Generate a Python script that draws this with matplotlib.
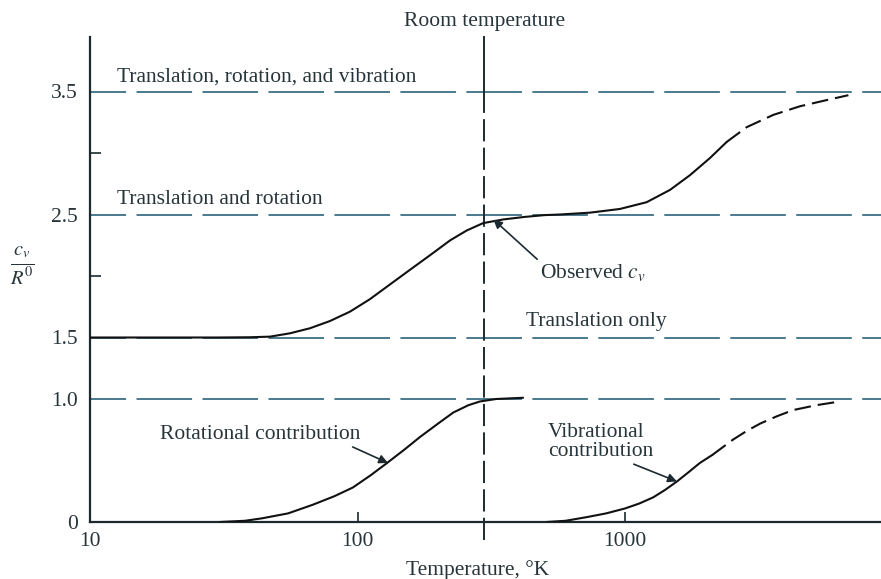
import numpy as np
import matplotlib
matplotlib.use("Agg")
import matplotlib.pyplot as plt
from matplotlib.ticker import NullLocator

plt.rcParams['font.family'] = ['Liberation Serif', 'DejaVu Serif']
plt.rcParams['mathtext.fontset'] = 'stix'
plt.rcParams['lines.scale_dashes'] = False

# --- data -------------------------------------------------------------
# classical plateau levels of c_v / R
level_values = [3.5, 2.5, 1.5, 1.0]
room_temperature = 298.0

# observed heat capacity (solid part, then estimated dashed part)
obs_T_solid = [10, 20, 30, 39.7, 47.1, 55.9, 66.4, 78.9, 93.7, 111, 132, 157,
               187, 222, 256, 295, 351, 420, 500, 571, 740, 957, 1205, 1473,
               1750, 2080, 2400]
obs_v_solid = [1.50, 1.50, 1.50, 1.502, 1.507, 1.534, 1.575, 1.634, 1.71, 1.81,
               1.93, 2.05, 2.17, 2.29, 2.37, 2.43, 2.46, 2.48, 2.495, 2.50,
               2.515, 2.545, 2.60, 2.70, 2.82, 2.96, 3.09]
obs_T_dash = [2400, 2850, 3585, 4510, 5670, 6840]
obs_v_dash = [3.09, 3.21, 3.31, 3.38, 3.43, 3.47]

# rotational contribution
rot_T = [30.6, 38, 44, 55, 68, 82, 96, 112, 129, 150, 171, 200, 228, 260, 287,
         330, 416]
rot_v = [0.0, 0.01, 0.03, 0.07, 0.14, 0.21, 0.28, 0.38, 0.48, 0.59, 0.69, 0.80,
         0.89, 0.95, 0.98, 1.00, 1.01]

# vibrational contribution (solid part, then estimated dashed part)
vib_T_solid = [510, 600, 721, 850, 1000, 1130, 1274, 1410, 1565, 1740, 1905, 2120]
vib_v_solid = [0.0, 0.01, 0.04, 0.07, 0.11, 0.15, 0.20, 0.26, 0.33, 0.41, 0.48,
               0.545]
vib_T_dash = [2120, 2535, 2850, 3200, 3700, 4250, 5200, 6370]
vib_v_dash = [0.545, 0.67, 0.74, 0.80, 0.86, 0.91, 0.95, 0.98]

x_ticks = [10, 100, 1000]
x_tick_labels = ['10', '100', '1000']
y_ticks = [0, 1.0, 1.5, 2.5, 3.5]
y_tick_labels = ['0', '1.0', '1.5', '2.5', '3.5']

# --- styling ----------------------------------------------------------
ink = '#1c2a30'
text_c = '#27353b'
guide_c = '#3b6e85'
fs = 15.5

fig = plt.figure(figsize=(8.81, 5.79), dpi=100)
fig.patch.set_facecolor('white')
ax = fig.add_axes([90 / 881, 57 / 579, 791 / 881, 522 / 579])
ax.set_xscale('log')
ax.set_xlim(10, 10 ** (1 + 791 / 267.5))
ax.set_ylim(0, 522 / 123)

for s in ['top', 'right']:
    ax.spines[s].set_visible(False)
for s in ['left', 'bottom']:
    ax.spines[s].set_color(ink)
    ax.spines[s].set_linewidth(1.6)
ax.spines['left'].set_bounds(0, 3.94)

ax.xaxis.set_minor_locator(NullLocator())
ax.set_xticks(x_ticks)
ax.set_xticklabels(x_tick_labels)
ax.tick_params(axis='x', which='major', direction='in', length=7, width=1.2,
               color=ink, labelsize=fs, labelcolor=text_c, pad=7)
ax.set_yticks(y_ticks)
ax.set_yticklabels(y_tick_labels)
ax.set_yticks([2.0, 3.0], minor=True)
ax.tick_params(axis='y', which='major', length=0, labelsize=fs,
               labelcolor=text_c, pad=9)
ax.tick_params(axis='y', which='minor', direction='in', length=8, width=1.2,
               color=ink)

# plateau guide lines
for lv in level_values:
    ax.axhline(lv, color=guide_c, lw=1.3, linestyle=(14, (40, 7.5)),
               dash_capstyle='butt', zorder=1)

# room temperature marker: solid above the top plateau, dashed below
ax.plot([room_temperature, room_temperature], [3.5, 3.94], color=ink, lw=1.4,
        clip_on=False, zorder=2)
ax.plot([room_temperature, room_temperature], [-0.15, 3.5], color=ink, lw=1.4,
        dashes=(16, 4.5), clip_on=False, zorder=2)

# curves
curve_kw = dict(color='#111111', lw=1.5, zorder=3, solid_capstyle='round',
                solid_joinstyle='round')
ax.plot(obs_T_solid, obs_v_solid, **curve_kw)
ax.plot(obs_T_dash, obs_v_dash, dashes=(12, 5), **curve_kw)
ax.plot(rot_T, rot_v, **curve_kw)
ax.plot(vib_T_solid, vib_v_solid, **curve_kw)
ax.plot(vib_T_dash, vib_v_dash, dashes=(12, 5), **curve_kw)

# labels
tkw = dict(fontsize=fs, color=text_c)
ax.text(12.6, 3.62, 'Translation, rotation, and vibration', va='center', **tkw)
ax.text(12.6, 2.62, 'Translation and rotation', va='center', **tkw)
ax.text(427, 1.63, 'Translation only', va='center', **tkw)
ax.text(room_temperature, 4.03, 'Room temperature', ha='center', va='baseline',
        **tkw)

arrow_kw = dict(arrowstyle='-|>', color=ink, lw=1.2, mutation_scale=13,
                shrinkA=0, shrinkB=0)
ax.annotate('Observed $c_v$', xy=(322, 2.46), xytext=(481, 2.03), va='center',
            ha='left', arrowprops=dict(**arrow_kw, relpos=(0.0, 1.0)), **tkw)
ax.annotate('Rotational contribution', xy=(130, 0.48), xytext=(18.3, 0.71),
            va='center', ha='left',
            arrowprops=dict(**arrow_kw, relpos=(0.93, 0.0)), **tkw)
ax.annotate('Vibrational\ncontribution', xy=(1563, 0.33), xytext=(515, 0.65),
            va='center', ha='left', linespacing=1.05,
            arrowprops=dict(**arrow_kw, relpos=(0.75, 0.0)), **tkw)

fig.text(478 / 881, 1 - 570 / 579, 'Temperature, °K', ha='center', va='center',
         **tkw)
fig.text(22 / 881, 1 - 266 / 579, r'$\frac{c_v}{R^0}$', ha='center', va='center',
         fontsize=21, color=text_c)

fig.savefig('out.png', dpi=100, facecolor='white')
